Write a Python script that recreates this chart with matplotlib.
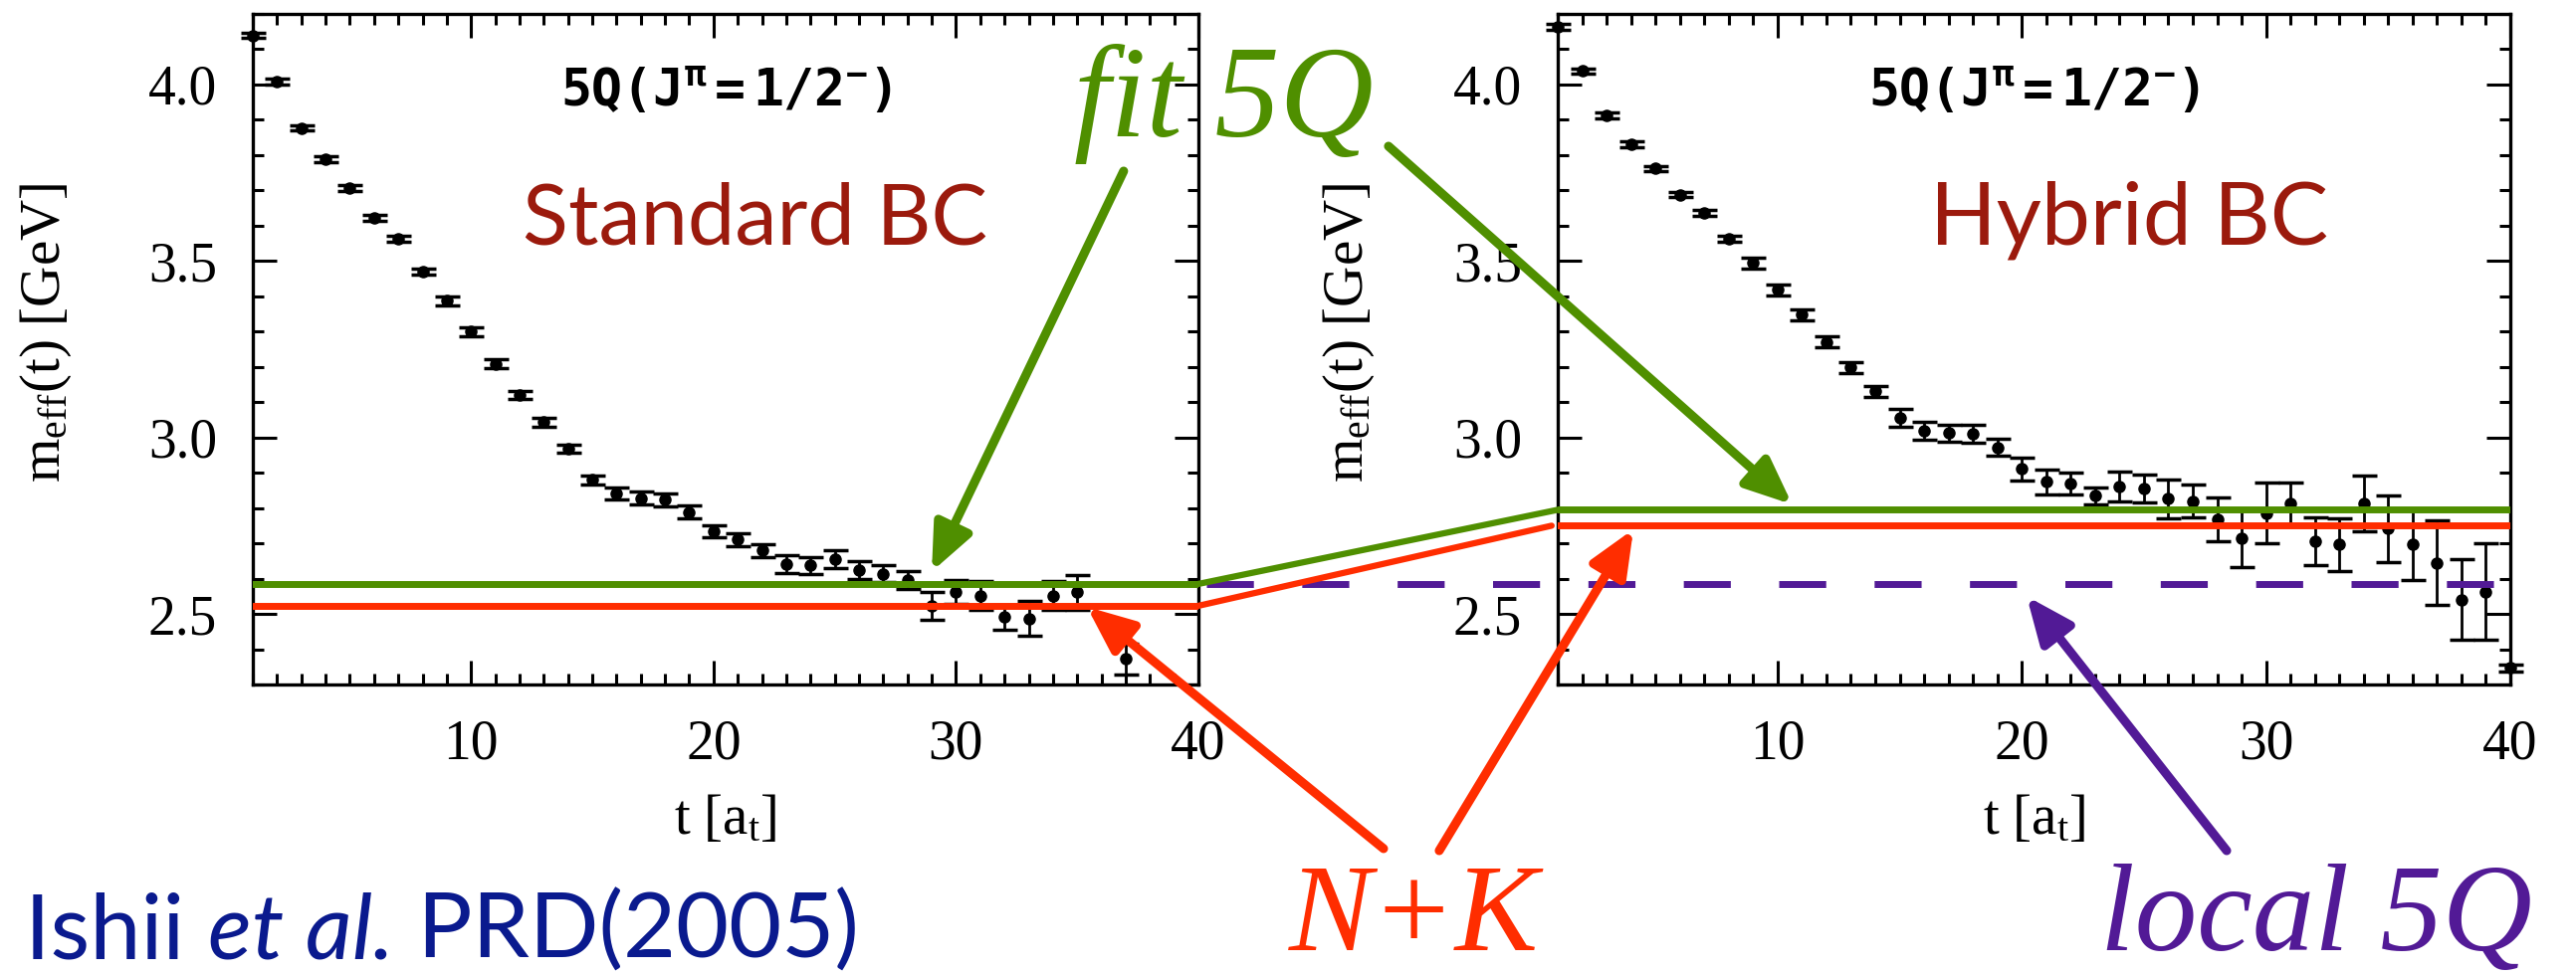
import matplotlib
matplotlib.use('Agg')
import matplotlib.pyplot as plt
from matplotlib.ticker import MultipleLocator
from matplotlib.patches import ConnectionPatch

# effective mass data, standard BC (left) and hybrid BC (right)
t_std = list(range(1, 36)) + [37]
m_std = [4.139, 4.009, 3.877, 3.788, 3.706, 3.623, 3.563, 3.469, 3.387, 3.300,
         3.209, 3.121, 3.043, 2.968, 2.880, 2.841, 2.828, 2.823, 2.789, 2.734,
         2.711, 2.680, 2.641, 2.637, 2.656, 2.624, 2.614, 2.595, 2.523, 2.562,
         2.552, 2.491, 2.487, 2.552, 2.561, 2.372]
err_std = [0.008, 0.008, 0.008, 0.008, 0.008, 0.008, 0.008, 0.008, 0.012, 0.012,
           0.012, 0.012, 0.012, 0.012, 0.012, 0.018, 0.018, 0.018, 0.018, 0.018,
           0.018, 0.018, 0.025, 0.025, 0.025, 0.025, 0.025, 0.025, 0.040, 0.035,
           0.040, 0.035, 0.050, 0.040, 0.050, 0.045]

t_hyb = list(range(1, 41))
m_hyb = [4.163, 4.038, 3.912, 3.830, 3.762, 3.688, 3.636, 3.562, 3.494, 3.418,
         3.348, 3.271, 3.198, 3.131, 3.056, 3.018, 3.012, 3.010, 2.972, 2.911,
         2.874, 2.869, 2.835, 2.861, 2.856, 2.826, 2.820, 2.768, 2.714, 2.785,
         2.813, 2.706, 2.697, 2.813, 2.742, 2.697, 2.645, 2.541, 2.563, 2.347]
err_hyb = [0.008, 0.008, 0.008, 0.008, 0.008, 0.008, 0.008, 0.008, 0.015, 0.015,
           0.015, 0.015, 0.015, 0.015, 0.025, 0.025, 0.025, 0.025, 0.025, 0.032,
           0.036, 0.031, 0.024, 0.041, 0.040, 0.054, 0.047, 0.062, 0.080, 0.086,
           0.058, 0.067, 0.075, 0.080, 0.095, 0.100, 0.120, 0.114, 0.136, 0.010]

# fitted levels [GeV]
fit5q_std = 2.585
nk_std = 2.523
fit5q_hyb = 2.795
nk_hyb = 2.750
local5q = 2.585

GREEN = '#4F8F00'
RED = '#FF2D00'
PURPLE = '#521A96'
DARKRED = '#9B1A0D'
BLUE = '#0A1A8E'

plt.rcParams['font.family'] = 'Liberation Serif'
plt.rcParams['mathtext.fontset'] = 'custom'
plt.rcParams['mathtext.rm'] = 'Liberation Serif'
plt.rcParams['mathtext.it'] = 'Liberation Serif:italic'
plt.rcParams['mathtext.tt'] = 'DejaVu Sans Mono:bold'

fig = plt.figure(figsize=(25.88, 9.81), dpi=100)
ax1 = fig.add_axes([0.09815, 0.29867, 0.36708, 0.68705])
ax2 = fig.add_axes([0.60471, 0.29867, 0.36978, 0.68705])

for ax, t, m, e in [(ax1, t_std, m_std, err_std), (ax2, t_hyb, m_hyb, err_hyb)]:
    ax.errorbar(t, m, yerr=e, fmt='o', color='k', ms=8, capsize=9,
                elinewidth=2, capthick=2.5, clip_on=False, zorder=2)
    ax.set_xlim(1, 40)
    ax.set_ylim(2.3, 4.2)
    ax.xaxis.set_major_locator(MultipleLocator(10))
    ax.xaxis.set_minor_locator(MultipleLocator(1))
    ax.yaxis.set_minor_locator(MultipleLocator(0.1))
    ax.set_yticks([2.5, 3.0, 3.5, 4.0], ['2.5', '3.0', '3.5', '4.0'])
    ax.tick_params(which='both', direction='in', top=True, right=True, width=2.2, labelsize=40)
    ax.tick_params(which='major', length=17)
    ax.tick_params(which='minor', length=8)
    ax.tick_params(axis='x', pad=25)
    ax.tick_params(axis='y', pad=26)
    for s in ax.spines.values():
        s.set_linewidth(2.4)
    ax.set_xlabel(r'$\mathrm{t\ [a_t]}$', fontsize=41, labelpad=17)
    ax.set_ylabel(r'$\mathrm{m_{eff}(t)\ [GeV]}$', fontsize=41)
    ax.yaxis.set_label_coords(-0.19, 0.525)
    ax.text(0.5, 0.884, r'$\mathtt{5Q(J^{\pi}=1/2^{-})}$', transform=ax.transAxes,
            ha='center', va='center', fontsize=37)

ax1.text(0.531, 0.656, 'Standard BC', transform=ax1.transAxes, ha='center',
         va='baseline', fontsize=61, family='Lato', color=DARKRED)
ax2.text(0.600, 0.656, 'Hybrid BC', transform=ax2.transAxes, ha='center',
         va='baseline', fontsize=63, family='Lato', color=DARKRED)

# fit levels
ax1.axhline(fit5q_std, color=GREEN, lw=5, zorder=3)
ax1.axhline(nk_std, color=RED, lw=5, zorder=3)
ax2.axhline(fit5q_hyb, color=GREEN, lw=5, zorder=3)
ax2.axhline(nk_hyb, color=RED, lw=5, zorder=3)

# local 5Q level, dashed across the gap
ax2.plot([-0.369, 0.985], [local5q, local5q], transform=ax2.get_yaxis_transform(),
         color=PURPLE, lw=5, ls=(0, (6.8, 7.0)), clip_on=False, zorder=3)

# connectors between the panels
for yA, yB, xB, col in [(fit5q_std, fit5q_hyb, 1.0, GREEN), (nk_std, nk_hyb, 0.75, RED)]:
    con = ConnectionPatch(xyA=(40, yA), coordsA=ax1.transData,
                          xyB=(xB, yB), coordsB=ax2.transData,
                          color=col, lw=4.5)
    fig.add_artist(con)

# arrows
def arrow(ax, tip, tail, col):
    ax.annotate('', xy=tip, xycoords='data', xytext=tail, textcoords='figure fraction',
                annotation_clip=False,
                arrowprops=dict(arrowstyle='-|>,head_length=1.4,head_width=0.6',
                                mutation_scale=20, lw=6.5, color=col,
                                shrinkA=0, shrinkB=0))

arrow(ax1, (29.0, 2.62), (0.4362, 0.8247), GREEN)
arrow(ax2, (10.6, 2.81), (0.5390, 0.8502), GREEN)
arrow(ax1, (35.4, 2.52), (0.5371, 0.1305), RED)
arrow(ax2, (4.1, 2.74), (0.5587, 0.1284), RED)
arrow(ax2, (20.2, 2.55), (0.8644, 0.1284), PURPLE)

# big labels
fig.text(0.4749, 0.8603, 'fit 5Q', ha='center', va='baseline', fontsize=94,
         style='italic', color=GREEN)
fig.text(0.5487, 0.0265, 'N+K', ha='center', va='baseline', fontsize=90,
         style='italic', color=RED)
fig.text(0.8992, 0.0265, 'local 5Q', ha='center', va='baseline', fontsize=90,
         style='italic', color=PURPLE)

# reference, pieces placed one after another
ref1 = fig.text(0.0097, 0.0183, 'Ishii ', ha='left', va='baseline', fontsize=66,
                family='Lato', color=BLUE)
ref2 = fig.text(0, 0.0183, 'et al.', va='baseline', fontsize=66, family='Lato',
                style='italic', color=BLUE)
ref3 = fig.text(0, 0.0183, ' PRD(2005)', va='baseline', fontsize=66, family='Lato',
                color=BLUE)
fig.canvas.draw()
r = fig.canvas.get_renderer()
bb = ref1.get_window_extent(r)
ref2.set_x(bb.x1 / fig.bbox.width)
bb2 = ref2.get_window_extent(r)
ref3.set_x(bb2.x1 / fig.bbox.width)

fig.savefig('out.png', dpi=100)
